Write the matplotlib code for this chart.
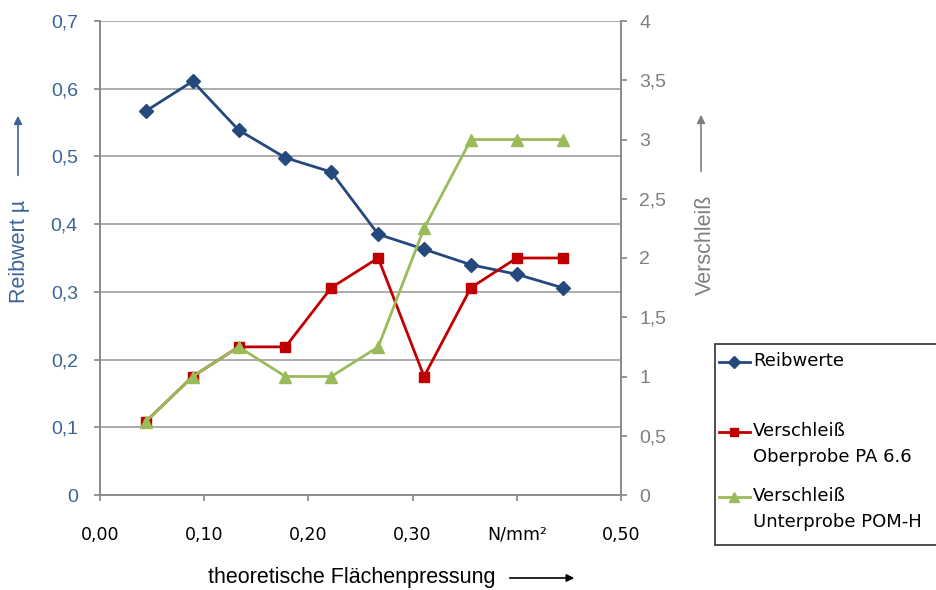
import matplotlib
matplotlib.use("Agg")
import matplotlib.pyplot as plt
from matplotlib.lines import Line2D
from matplotlib.patches import Rectangle, FancyArrowPatch

# ---- data ----
pressure = [0.044, 0.089, 0.133, 0.178, 0.222, 0.267, 0.311, 0.356, 0.400, 0.444]
reibwerte = [0.567, 0.611, 0.539, 0.498, 0.477, 0.385, 0.363, 0.340, 0.326, 0.306]
verschleiss_pa = [0.62, 1.0, 1.25, 1.25, 1.75, 2.0, 1.0, 1.75, 2.0, 2.0]
verschleiss_pom = [0.62, 1.0, 1.25, 1.0, 1.0, 1.25, 2.25, 3.0, 3.0, 3.0]

x_ticks = [0.0, 0.1, 0.2, 0.3, 0.4, 0.5]
x_ticklabels = ["0,00", "0,10", "0,20", "0,30", "N/mm²", "0,50"]
left_ticks = [0, 0.1, 0.2, 0.3, 0.4, 0.5, 0.6, 0.7]
left_ticklabels = ["0", "0,1", "0,2", "0,3", "0,4", "0,5", "0,6", "0,7"]
right_ticks = [0, 0.5, 1, 1.5, 2, 2.5, 3, 3.5, 4]
right_ticklabels = ["0", "0,5", "1", "1,5", "2", "2,5", "3", "3,5", "4"]
legend_labels = ["Reibwerte", "Verschleiß\nOberprobe PA 6.6", "Verschleiß\nUnterprobe POM-H"]

BLUE = "#24497D"
RED = "#C00000"
GREEN = "#9BBB59"
GRID = "#A6A6A6"
AXC = "#8C8C8C"
LBLUE = "#3B6497"
GRAYT = "#7F7F7F"

W, H = 937, 590
fig = plt.figure(figsize=(W / 100, H / 100), dpi=100)

def px(x, y):
    return (x / W, 1 - y / H)

L, R, T, B = 100, 621, 21, 495
ax = fig.add_axes([L / W, 1 - B / H, (R - L) / W, (B - T) / H])
ax2 = ax.twinx()

ax.plot(pressure, reibwerte, color=BLUE, lw=2.0, marker="D", ms=7.5,
        markeredgecolor=BLUE, markerfacecolor=BLUE, zorder=3)
ax2.plot(pressure, verschleiss_pa, color=RED, lw=2.0, marker="s", ms=6.5,
         markeredgecolor=RED, markerfacecolor=RED, zorder=3)
ax2.plot(pressure, verschleiss_pom, color=GREEN, lw=2.0, marker="^", ms=8,
         markeredgecolor=GREEN, markerfacecolor=GREEN, zorder=4)

ax.set_xlim(0, 0.5)
ax.set_ylim(0, 0.7)
ax2.set_ylim(0, 4)

ax.set_xticks(x_ticks)
ax.set_xticklabels(x_ticklabels, fontsize=12.5, color="black", family="DejaVu Sans")
ax.set_yticks(left_ticks)
ax.set_yticklabels(left_ticklabels, fontsize=14, color=LBLUE, family="Liberation Sans")
ax2.set_yticks(right_ticks)
ax2.set_yticklabels(right_ticklabels, fontsize=14, color=GRAYT, family="Liberation Sans")

ax.yaxis.grid(True, color=GRID, lw=1.3)
ax.set_axisbelow(True)
ax.xaxis.grid(False)

for a in (ax, ax2):
    a.spines["top"].set_visible(False)
    for s in ("left", "right", "bottom"):
        a.spines[s].set_color(AXC)
        a.spines[s].set_linewidth(1.3)

ax.tick_params(axis="x", direction="out", length=4, width=1.3, color=AXC, pad=18)
ax.tick_params(axis="y", direction="out", length=4, width=1.3, color=AXC, pad=12)
ax2.tick_params(axis="y", direction="out", length=4, width=1.3, color=AXC, pad=9)

# axis titles with arrows
fig.text(*px(20, 251), "Reibwert µ", rotation=90, ha="center", va="center",
         fontsize=15.5, color=LBLUE, family="Liberation Sans")
fig.add_artist(FancyArrowPatch(px(18, 178), px(18, 113),
               transform=fig.transFigure, arrowstyle="-|>", mutation_scale=12,
               color=LBLUE, lw=1.2))
fig.text(*px(705, 245), "Verschleiß", rotation=90, ha="center", va="center",
         fontsize=15.5, color=GRAYT, family="Liberation Sans")
fig.add_artist(FancyArrowPatch(px(701, 174), px(701, 112),
               transform=fig.transFigure, arrowstyle="-|>", mutation_scale=12,
               color=GRAYT, lw=1.2))
fig.text(*px(352, 578), "theoretische Flächenpressung", ha="center", va="center",
         fontsize=15.5, color="black", family="Liberation Sans")
fig.add_artist(FancyArrowPatch(px(507, 578), px(577, 578),
               transform=fig.transFigure, arrowstyle="-|>", mutation_scale=11,
               color="black", lw=1.2))

# legend (manual, clipped by the figure edge)
lx0, ly0, lx1, ly1 = 715, 344, 960, 545
fig.add_artist(Rectangle(px(lx0, ly1), (lx1 - lx0) / W, (ly1 - ly0) / H,
                         transform=fig.transFigure, facecolor="white",
                         edgecolor="#404040", lw=1.3))
entries = [(BLUE, "D", 6, 362), (RED, "s", 5.5, 432), (GREEN, "^", 6.5, 497)]
for (c, m, ms, yy), lab in zip(entries, legend_labels):
    xs = [719 / W, 750 / W]
    ys = [1 - yy / H] * 2
    fig.add_artist(Line2D(xs, ys, transform=fig.transFigure, color=c, lw=2.0))
    fig.add_artist(Line2D([734.5 / W], [1 - yy / H], transform=fig.transFigure,
                          color=c, marker=m, ms=ms, lw=0))
    fig.text(753 / W, 1 - (yy - 10) / H, lab, ha="left", va="top", fontsize=13,
             family="DejaVu Sans", color="black", linespacing=1.55)

fig.savefig("out.png", dpi=100)
